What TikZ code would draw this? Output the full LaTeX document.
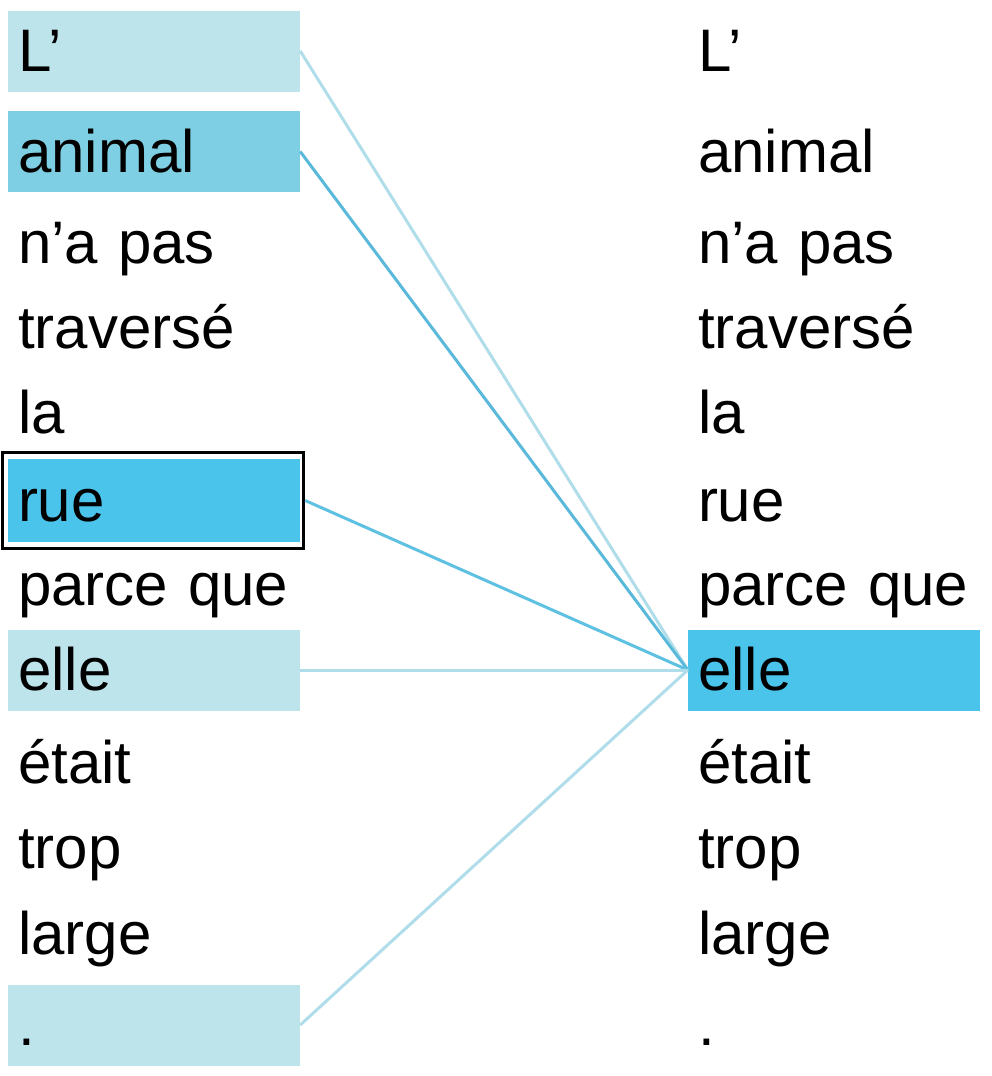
\documentclass[tikz,border=0pt]{standalone}
\usepackage{fontspec}
\setmainfont{Liberation Sans}
\definecolor{lightbox}{HTML}{BDE3EB}
\definecolor{midbox}{HTML}{7ECFE3}
\definecolor{strongbox}{HTML}{4BC4EC}
\definecolor{lightline}{HTML}{B0DDEA}
\definecolor{midline}{HTML}{5AB9DA}
\definecolor{strongline}{HTML}{5EC1E2}
\tikzset{
  word/.style={rectangle, minimum width=292pt, minimum height=81pt, inner xsep=10pt, inner ysep=0pt,
    text width=272pt, align=left, text height=41pt, text depth=0pt,
    font=\fontsize{60}{70}\selectfont},
  lightw/.style={word, fill=lightbox},
  midw/.style={word, fill=midbox},
  strongw/.style={word, fill=strongbox},
  link/.style={line width=3pt},
}
\begin{document}
\begin{tikzpicture}[x=1pt,y=-1pt]
\useasboundingbox (0,0) rectangle (992,1076);
% left column
\node[lightw]  (L1)  at (154,51)   {L’};
\node[midw]    (L2)  at (154,151.5){animal};
\node[word]    (L3)  at (154,243)  {n’a pas};
\node[word]    (L4)  at (154,328)  {traversé};
\node[word]    (L5)  at (154,413)  {la};
\node[strongw, minimum height=83pt] (L6) at (154,500.5) {rue};
\node[word]    (L7)  at (154,585)  {parce que};
\node[lightw]  (L8)  at (154,670)  {elle};
\node[word]    (L9)  at (154,763)  {était};
\node[word]    (L10) at (154,848)  {trop};
\node[word]    (L11) at (154,934)  {large};
\node[lightw]  (L12) at (154,1025) {.};
\draw[line width=3.5pt] (2.5,452.5) rectangle (303.5,548.5);
\coordinate (rueout) at ([xshift=5pt]L6.east);
% right column
\node[word]    (R1)  at (834,51)   {L’};
\node[word]    (R2)  at (834,151.5){animal};
\node[word]    (R3)  at (834,243)  {n’a pas};
\node[word]    (R4)  at (834,328)  {traversé};
\node[word]    (R5)  at (834,413)  {la};
\node[word]    (R6)  at (834,500.5){rue};
\node[word]    (R7)  at (834,585)  {parce que};
\node[strongw] (R8)  at (834,670)  {elle};
\node[word]    (R9)  at (834,763)  {était};
\node[word]    (R10) at (834,848)  {trop};
\node[word]    (R11) at (834,934)  {large};
\node[word]    (R12) at (834,1025) {.};
% connectors
\draw[link, lightline]  (L1.east)  -- (R8.west);
\draw[link, midline]    (L2.east)  -- (R8.west);
\draw[link, strongline] (rueout)   -- (R8.west);
\draw[link, lightline]  (L8.east)  -- (R8.west);
\draw[link, lightline]  (L12.east) -- (R8.west);
\end{tikzpicture}
\end{document}
